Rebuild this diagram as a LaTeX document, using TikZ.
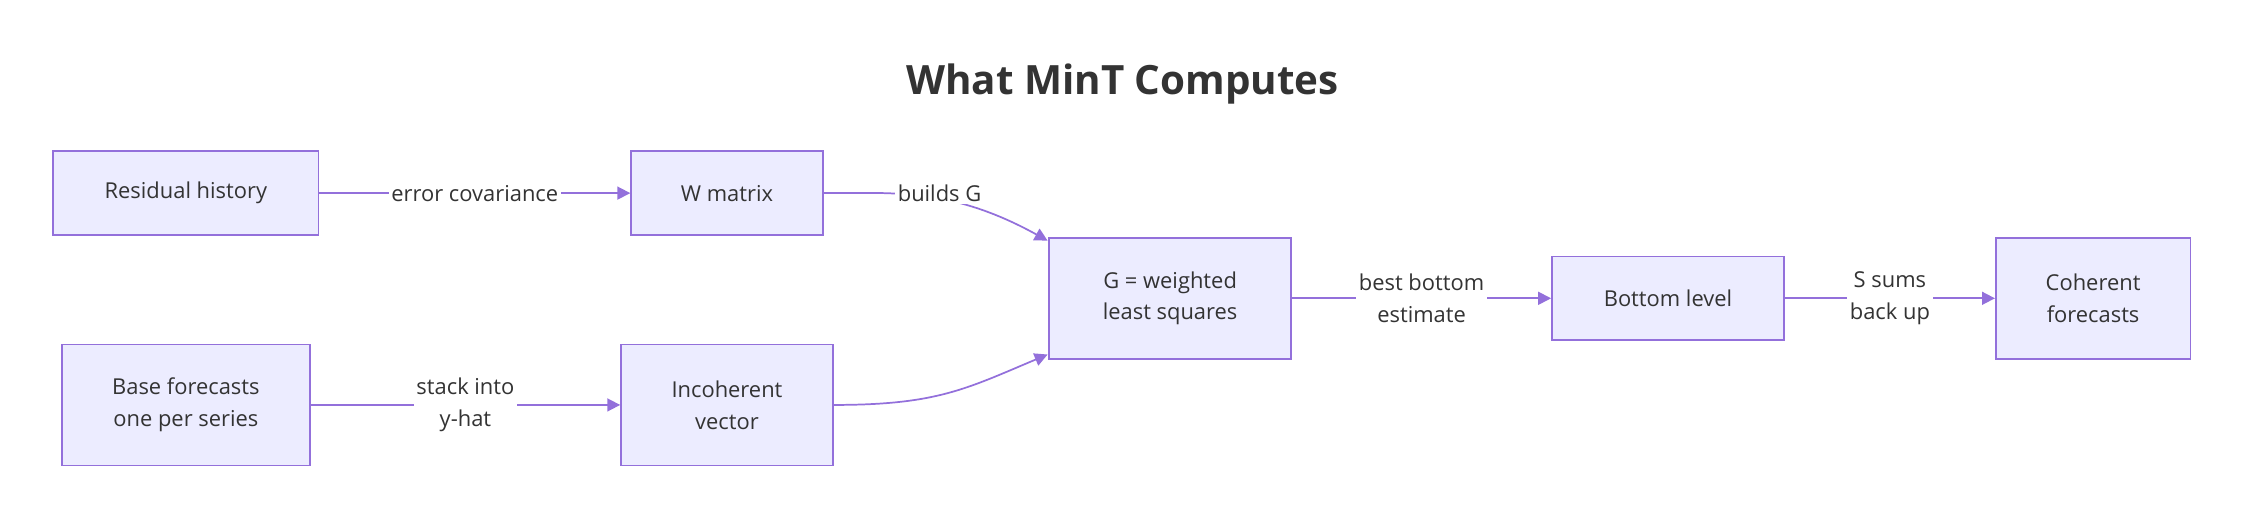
\documentclass[tikz,border=0pt]{standalone}
\usepackage{fontspec}
\setmainfont{Open Sans}
\usetikzlibrary{arrows.meta}
\definecolor{nfill}{HTML}{ECECFF}
\definecolor{nline}{HTML}{9370DB}
\definecolor{ntext}{HTML}{333333}
\begin{document}
\begin{tikzpicture}[x=0.5pt,y=-0.5pt,
  box/.style={draw=nline,fill=nfill,line width=0.6pt,text=ntext,font=\fontsize{7.6}{11}\selectfont,align=center,inner sep=0pt},
  lab/.style={fill=white,text=ntext,font=\fontsize{7.6}{11}\selectfont,align=center,inner sep=1pt},
  arr/.style={draw=nline,line width=0.6pt,-{Triangle[length=4.5pt,width=4.5pt]}}]
\useasboundingbox (0,0) rectangle (1560,361);
\node[text=ntext,font=\fontsize{14}{16}\bfseries] (title) at (779,58) {What MinT Computes};
\node[box,minimum width=92pt,minimum height=29pt] (rh) at (129,134) {Residual history};
\node[box,minimum width=66.5pt,minimum height=29pt] (w) at (504.5,134) {W matrix};
\node[box,minimum width=86pt,minimum height=42pt] (bf) at (129,281) {Base forecasts\\one per series};
\node[box,minimum width=73.5pt,minimum height=42pt] (iv) at (504.5,281) {Incoherent\\vector};
\node[box,minimum width=84pt,minimum height=42pt] (g) at (812,207) {G = weighted\\least squares};
\node[box,minimum width=80.5pt,minimum height=29pt] (bl) at (1157.5,207) {Bottom level};
\node[box,minimum width=67.5pt,minimum height=42pt] (co) at (1452.5,207) {Coherent\\forecasts};
\coordinate (gtl) at (727,167);
\coordinate (gbl) at (727,246);
\draw[arr] (rh) -- node[lab]{error covariance} (w);
\draw[arr] (w.east) .. controls (620,134) and (660,130) .. (gtl);
\node[lab] (lbg) at (652,134) {builds G};
\draw[arr] (bf) -- node[lab]{stack into\\y-hat} (iv);
\draw[arr] (iv.east) .. controls (650,281) and (670,270) .. (gbl);
\draw[arr] (g) -- node[lab]{best bottom\\estimate} (bl);
\draw[arr] (bl) -- node[lab]{S sums\\back up} (co);
\end{tikzpicture}
\end{document}
